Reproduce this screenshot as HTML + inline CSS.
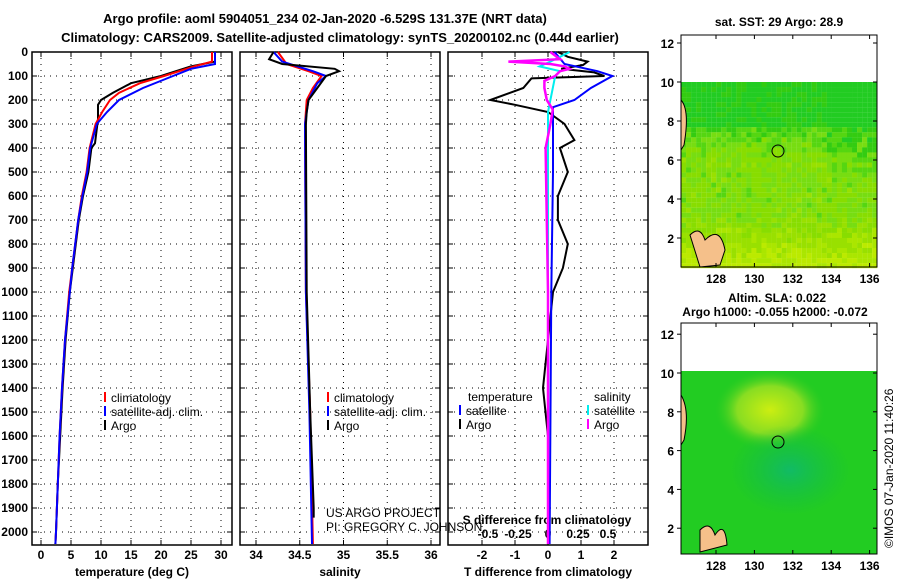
<!DOCTYPE html>
<html><head><meta charset="utf-8"><style>
body{margin:0;background:#fff;width:900px;height:580px;overflow:hidden}
svg{display:block;font-family:"Liberation Sans",sans-serif}
.b{font-weight:bold;font-size:13px}
.t{font-weight:bold;font-size:12px}
</style></head><body>
<svg id="c" width="900" height="580">
<defs>
<radialGradient id="y2" cx="0.5" cy="0.5" r="0.5"><stop offset="0" stop-color="#ccee11"/><stop offset="0.6" stop-color="#88dd22"/><stop offset="1" stop-color="#33cc22" stop-opacity="0"/></radialGradient>
<radialGradient id="b2" cx="0.5" cy="0.5" r="0.5"><stop offset="0" stop-color="#11bb66"/><stop offset="1" stop-color="#11bb44" stop-opacity="0"/></radialGradient>
</defs>
<text class="b" x="325" y="23" text-anchor="middle">Argo profile: aoml 5904051_234 02-Jan-2020 -6.529S 131.37E (NRT data)</text>
<text class="b" x="340" y="42" text-anchor="middle">Climatology: CARS2009. Satellite-adjusted climatology: synTS_20200102.nc (0.44d earlier)</text>
<g id="p1"></g>
<g id="p2"></g>
<g id="p3"></g>
<g>
<g id="sstcells"></g>
<rect x="681" y="35" width="196" height="232" fill="none" stroke="#000"/>
<path d="M681 100 Q690 110 684 145 L681 150Z M690 235 Q700 225 705 240 Q720 225 725 250 L720 265 L700 267Z" fill="#f5c08a" stroke="#000"/>
<circle cx="778" cy="151" r="6" fill="none" stroke="#000"/>
<text class="t" x="779" y="26" text-anchor="middle">sat. SST: 29 Argo: 28.9</text>
</g>
<g>
<rect x="681" y="371" width="196" height="183" fill="#22cc22"/>
<ellipse cx="770" cy="410" rx="55" ry="40" fill="url(#y2)"/>
<ellipse cx="790" cy="470" rx="60" ry="45" fill="url(#b2)"/>
<rect x="681" y="323" width="196" height="231" fill="none" stroke="#000"/>
<path d="M681 395 Q690 410 684 440 L681 445Z M700 530 Q710 520 715 535 Q725 520 727 545 L700 552Z" fill="#f5c08a" stroke="#000"/>
<circle cx="778" cy="442" r="6" fill="none" stroke="#000"/>
<text class="t" x="777" y="302" text-anchor="middle">Altim. SLA: 0.022</text>
<text class="t" x="775" y="316" text-anchor="middle">Argo h1000: -0.055 h2000: -0.072</text>
</g>
<text x="893" y="548" font-size="12" transform="rotate(-90 893 548)">©IMOS 07-Jan-2020 11:40:26</text>
</svg>
<script>
const depthTicks=[0,100,200,300,400,500,600,700,800,900,1000,1100,1200,1300,1400,1500,1600,1700,1800,1900,2000];
const tempTicks=[0,5,10,15,20,25,30];
const salTicks=[34,34.5,35,35.5,36];
const tdTicks=[-2,-1,0,1,2];
const sdTicks=[-0.5,-0.25,0,0.25,0.5];
const argoT=[[0,29],[40,29],[60,25],[100,20],[130,15],[170,12],[200,10],[220,9.5],[280,9.5],[300,9.4],[380,9],[400,8.4],[500,7.9],[600,7],[700,6.3],[800,5.8],[900,5.3],[1000,4.8],[1200,4.1],[1400,3.6],[1600,3.2],[1800,2.8],[2000,2.5],[2050,2.4]];
const climT=[[0,28.5],[40,28.5],[60,25.5],[100,20.5],[130,16.5],[170,13],[200,11.5],[250,10.2],[300,9.1],[400,8.1],[500,7.6],[600,6.8],[700,6.2],[800,5.7],[900,5.2],[1000,4.7],[1200,4],[1400,3.5],[1600,3.1],[1800,2.8],[2000,2.5],[2050,2.4]];
const satT=[[0,29],[50,29],[70,25],[100,22],[150,17],[200,13],[250,11],[300,9.3],[400,8.2],[500,7.7],[600,6.9],[700,6.2],[800,5.7],[900,5.2],[1000,4.8],[1200,4],[1400,3.5],[1600,3.1],[1800,2.8],[2000,2.5],[2050,2.4]];
const argoS=[[0,34.2],[30,34.15],[50,34.3],[70,34.9],[80,34.95],[100,34.8],[150,34.7],[200,34.6],[250,34.58],[300,34.57],[1000,34.58],[1500,34.62],[1900,34.66],[1940,34.66]];
const climS=[[0,34.25],[50,34.35],[80,34.6],[100,34.75],[150,34.65],[200,34.58],[300,34.56],[1000,34.57],[1500,34.62],[2050,34.65]];
const satS=[[0,34.2],[40,34.3],[80,34.65],[100,34.8],[130,34.7],[200,34.6],[300,34.56],[1000,34.57],[1500,34.61],[2050,34.64]];
const argoTd=[[0,0.3],[20,0.6],[40,1.2],[54,1.06],[70,0.4],[85,1.4],[100,1.7],[110,-0.5],[150,-0.75],[200,-1.75],[220,-1],[250,0],[300,0.5],[367,0.8],[400,0.36],[500,0.6],[600,0.3],[700,0.3],[800,0.6],[900,0.45],[1000,0.15],[1200,0],[1400,-0.15],[1600,0],[2000,0],[2050,0]];
const satTd=[[0,0.2],[50,0.5],[80,1.5],[100,1.95],[150,1.3],[200,0.8],[230,0.15],[500,0.15],[1000,0.1],[2050,0.05]];
const satSd=[[0,0.18],[20,0.1],[40,0.02],[60,-0.07],[80,0.1],[100,0.06],[150,0.04],[200,0.02],[250,0],[2050,0]];
const argoSd=[[0,0.02],[30,0.1],[40,-0.33],[50,0.02],[60,0.14],[70,0.18],[80,0.1],[100,0.06],[120,-0.03],[150,-0.03],[200,-0.01],[240,0.04],[300,0.02],[400,-0.02],[1000,0],[2050,0]];
const NS='http://www.w3.org/2000/svg';
const Y0=52,YS=0.24,TOP=52,BOT=545;
const yD=d=>Y0+d*YS;
function mk(p,tag,at){const e=document.createElementNS(NS,tag);for(const k in at)e.setAttribute(k,at[k]);p.appendChild(e);return e;}
// SST map pixel texture (decorative)
(function(){const g=document.getElementById('sstcells');let s=7;const r=()=>{s=(s*9301+49297)%233280;return s/233280;};
 const cols=['#22cc22','#33cc11','#55d611','#77dd11','#88dd00','#99e000','#aae600','#bbea00'];
 for(let j=0;j<37;j++)for(let i=0;i<39;i++){const f=j/36;let base=f<0.25?0.3:f<0.45?2+ (f-0.25)*10:f<0.75?3.5:4+(f-0.75)*12;
  if(i>28&&f<0.5)base-=1;let k=Math.round(base+(r()-0.5)*2.2);k=Math.max(0,Math.min(7,k));
  mk(g,'rect',{x:681+i*5.03,y:82+j*5.03,width:5.1,height:5.1,fill:cols[k]});}})();
function frame(g,x0,x1,xt,xf,lbl,showD){
 depthTicks.forEach(d=>{const y=yD(d);
  const l=mk(g,'line',{x1:x0,x2:x1,y1:y,y2:y,stroke:'#000','stroke-dasharray':'1 5'});
  
  
  mk(g,'line',{x1:x0,x2:x0+5,y1:y,y2:y,stroke:'#000'});mk(g,'line',{x1:x1-5,x2:x1,y1:y,y2:y,stroke:'#000'});
  if(showD){const t=mk(g,'text',{x:x0-4,y:y+4,'text-anchor':'end',class:'t'});t.textContent=d;
   
   }
 });
 xt.forEach(v=>{const x=xf(v);
  mk(g,'line',{x1:x,x2:x,y1:TOP,y2:BOT,stroke:'#000','stroke-dasharray':'1 5'});
  mk(g,'line',{x1:x,x2:x,y1:TOP,y2:TOP+5,stroke:'#000'});mk(g,'line',{x1:x,x2:x,y1:BOT-5,y2:BOT,stroke:'#000'});
  const t=mk(g,'text',{x:x,y:559,'text-anchor':'middle',class:'t'});t.textContent=v;
  
  
 });
 mk(g,'rect',{x:x0,y:TOP,width:x1-x0,height:BOT-TOP,fill:'none',stroke:'#000','stroke-width':1.5});
 const t=mk(g,'text',{x:(x0+x1)/2,y:576,'text-anchor':'middle',class:'t'});t.textContent=lbl;
 
 
}
function line(g,data,xf,col,w,name){
 let d='';data.forEach((p,i)=>{d+=(i?'L':'M')+xf(p[1]).toFixed(1)+' '+yD(p[0]).toFixed(1);});
 const e=mk(g,'path',{d:d,fill:'none',stroke:col,'stroke-width':w});
 
 
}
function legend(g,x,y,items){items.forEach((it,i)=>{const yy=y+i*14;
 mk(g,'line',{x1:x,x2:x,y1:yy-10,y2:yy,stroke:it[1],'stroke-width':2});
 const t=mk(g,'text',{x:x+6,y:yy,'font-size':12});t.textContent=it[0];
 
 });}
const p1=document.getElementById('p1'),p2=document.getElementById('p2'),p3=document.getElementById('p3');
const xT=v=>41+v*6;
frame(p1,32,232,tempTicks,xT,'temperature (deg C)',true);
line(p1,argoT,xT,'#000',2,'argo-temperature-line');
line(p1,climT,xT,'#f00',2,'clim-temperature-line');
line(p1,satT,xT,'#00f',2,'sat-temperature-line');
legend(p1,105,402,[['climatology','#f00'],['satellite-adj. clim.','#00f'],['Argo','#000']]);
const xS=v=>256+(v-34)*87.5;
frame(p2,240,440,salTicks,xS,'salinity',false);
line(p2,climS,xS,'#f00',2,'clim-salinity-line');
line(p2,satS,xS,'#00f',2,'sat-salinity-line');
line(p2,argoS,xS,'#000',2,'argo-salinity-line');
legend(p2,328,402,[['climatology','#f00'],['satellite-adj. clim.','#00f'],['Argo','#000']]);
{const t=mk(p2,'text',{x:326,y:517,'font-size':12});t.textContent='US ARGO PROJECT';

const t2=mk(p2,'text',{x:326,y:531,'font-size':12});t2.textContent='PI: GREGORY C. JOHNSON';
}
const xTd=v=>548+v*33;const xSd=v=>548+v*120;
frame(p3,448,648,tdTicks,xTd,'T difference from climatology',false);
sdTicks.forEach(v=>{const t=mk(p3,'text',{x:xSd(v),y:538,'text-anchor':'middle',class:'t'});t.textContent=v;
 });
{const t=mk(p3,'text',{x:547,y:524,'text-anchor':'middle',class:'t'});t.textContent='S difference from climatology';
}
line(p3,argoTd,xTd,'#000',2,'argo-t-diff-line');
line(p3,satTd,xTd,'#00f',2,'sat-t-diff-line');
line(p3,satSd,xSd,'#0ee',2,'sat-s-diff-line');
line(p3,argoSd,xSd,'#f0f',2.5,'argo-s-diff-line');
{const t=mk(p3,'text',{x:468,y:401,'font-size':12});t.textContent='temperature';

const t2=mk(p3,'text',{x:594,y:401,'font-size':12});t2.textContent='salinity';
}
legend(p3,460,415,[['satellite','#00f'],['Argo','#000']]);
legend(p3,588,415,[['satellite','#0ee'],['Argo','#f0f']]);
function mapAx(top,bot,y10,py){const g=document.getElementById('c');
 [2,4,6,8,10,12].forEach(v=>{const y=y10+(10-v)*py;
  mk(g,'line',{x1:681,x2:677,y1:y,y2:y,stroke:'#000'});mk(g,'line',{x1:877,x2:873,y1:y,y2:y,stroke:'#000'});
  const t=mk(g,'text',{x:674,y:y+5,'text-anchor':'end',class:'t'});t.textContent=v;
  });
 [128,130,132,134,136].forEach(v=>{const x=716+(v-128)*19.2;
  mk(g,'line',{x1:x,x2:x,y1:bot,y2:bot-4,stroke:'#000'});mk(g,'line',{x1:x,x2:x,y1:top,y2:top+4,stroke:'#000'});
  const t=mk(g,'text',{x:x,y:bot+16,'text-anchor':'middle',class:'t'});t.textContent=v;
  });}
mapAx(35,267,82,19.5);
mapAx(323,554,373,19.4);
</script>
</body></html>
